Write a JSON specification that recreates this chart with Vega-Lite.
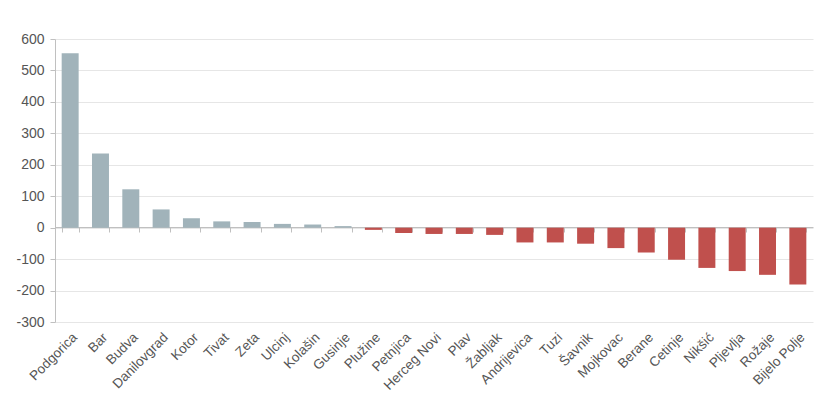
{
  "$schema": "https://vega.github.io/schema/vega-lite/v6.json",
  "width": 758,
  "height": 283,
  "autosize": {"type": "none"},
  "padding": {"left": 55, "top": 39, "right": 22, "bottom": 92},
  "background": "#ffffff",
  "config": {
    "view": {"stroke": null},
    "font": "Liberation Sans",
    "axis": {"labelFont": "Liberation Sans", "labelColor": "#555555", "labelFontSize": 13}
  },
  "data": {
    "values": [
      {"opstina": "Podgorica", "v": 555},
      {"opstina": "Bar", "v": 236},
      {"opstina": "Budva", "v": 122},
      {"opstina": "Danilovgrad", "v": 58},
      {"opstina": "Kotor", "v": 30},
      {"opstina": "Tivat", "v": 20},
      {"opstina": "Zeta", "v": 18},
      {"opstina": "Ulcinj", "v": 12},
      {"opstina": "Kolašin", "v": 10},
      {"opstina": "Gusinje", "v": 5},
      {"opstina": "Plužine", "v": -7},
      {"opstina": "Petnjica", "v": -17},
      {"opstina": "Herceg Novi", "v": -20},
      {"opstina": "Plav", "v": -20},
      {"opstina": "Žabljak", "v": -23},
      {"opstina": "Andrijevica", "v": -47},
      {"opstina": "Tuzi", "v": -47},
      {"opstina": "Šavnik", "v": -51},
      {"opstina": "Mojkovac", "v": -65},
      {"opstina": "Berane", "v": -79},
      {"opstina": "Cetinje", "v": -102},
      {"opstina": "Nikšić", "v": -128},
      {"opstina": "Pljevlja", "v": -138},
      {"opstina": "Rožaje", "v": -150},
      {"opstina": "Bijelo Polje", "v": -181}
    ]
  },
  "encoding": {
    "y": {
      "field": "v", "type": "quantitative",
      "scale": {"domain": [-300, 600], "nice": false},
      "axis": {
        "title": null, "values": [-300, -200, -100, 0, 100, 200, 300, 400, 500, 600],
        "labelExpr": "datum.value + ''", "labelOverlap": false, "labelFontSize": 14,
        "gridColor": "#e6e6e6", "domainColor": "#c0c0c0", "tickColor": "#c0c0c0",
        "ticks": true, "tickSize": 5, "labelPadding": 6
      }
    }
  },
  "resolve": {"axis": {"x": "independent"}},
  "layer": [
    {
      "mark": {"type": "bar"},
      "encoding": {
        "x": {
          "field": "opstina", "type": "nominal", "sort": null,
          "scale": {"paddingInner": 0.44, "paddingOuter": 0.22},
          "axis": {
            "title": null, "orient": "bottom", "domain": false, "ticks": false, "grid": false,
            "labelAngle": -45, "labelFontSize": 13.5, "labelPadding": 8, "labelOverlap": false
          }
        },
        "color": {
          "condition": {"test": "datum.v < 0", "value": "#c0504d"},
          "value": "#a1b3ba"
        }
      }
    },
    {
      "mark": {"type": "bar", "opacity": 0},
      "encoding": {
        "x": {
          "field": "opstina", "type": "nominal", "sort": null,
          "axis": {
            "title": null, "orient": "bottom", "offset": -95, "labels": false, "grid": false,
            "domain": true, "domainColor": "#c0c0c0", "ticks": true, "tickColor": "#c0c0c0",
            "tickBand": "extent", "tickSize": 5
          }
        }
      }
    }
  ]
}
